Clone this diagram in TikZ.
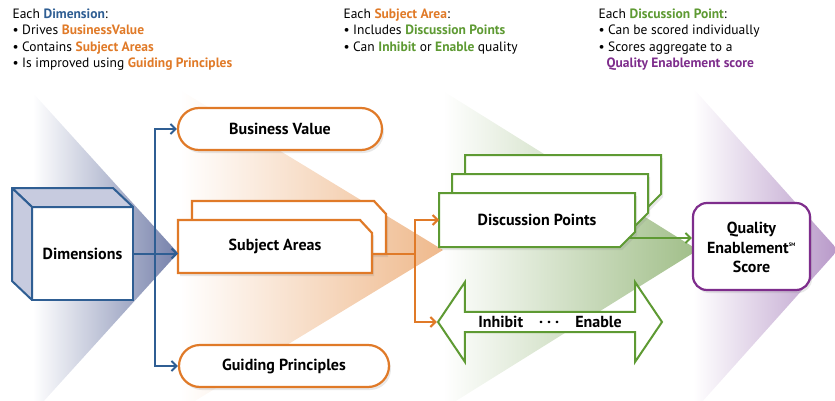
\documentclass[tikz,border=0pt]{standalone}
\usepackage{fontspec}
\setmainfont{PT Sans}
\usetikzlibrary{shapes.arrows,shadows,arrows.meta}
\definecolor{dimblue}{HTML}{2F5E93}
\definecolor{saorange}{HTML}{E07A28}
\definecolor{dpgreen}{HTML}{5E9A33}
\definecolor{qepurple}{HTML}{7E2D8C}
\definecolor{dimshade}{HTML}{7580AA}
\definecolor{sashade}{HTML}{EFB98C}
\definecolor{dpshade}{HTML}{A0BE88}
\definecolor{qeshade}{HTML}{B899C9}
\definecolor{cubeside}{HTML}{C7CBDF}
\pgfdeclarelayer{shades}
\pgfdeclarelayer{cards}
\pgfsetlayers{shades,cards,main}
\tikzset{
  boxshadow/.style={drop shadow={opacity=0.18,shadow xshift=2pt,shadow yshift=-3pt}},
  boxfont/.style={font=\fontsize{16}{19.5}\selectfont\bfseries},
  conn/.style={line width=2pt,-{Straight Barb[length=5pt,width=10pt]}},
  pillbox/.style={draw=saorange,line width=2.2pt,fill=white,rounded corners=21pt,minimum height=42pt,boxfont,boxshadow},
  tabnode/.style={minimum width=194pt,minimum height=53pt,inner sep=0pt,outer sep=0pt,boxfont},
  cardnode/.style={minimum width=196pt,minimum height=54pt,inner sep=0pt,outer sep=0pt,boxfont},
  tabline/.style={draw=saorange,line width=2.2pt,fill=white,boxshadow},
  cardline/.style={draw=dpgreen,line width=2pt,fill=white,boxshadow},
  notetext/.style={anchor=north west,align=left,font=\fontsize{13.5}{16.5}\selectfont}
}
\begin{document}
\begin{tikzpicture}[x=1pt,y=1pt]
\useasboundingbox (0,0) rectangle (835,-401);
\begin{pgfonlayer}{shades}
\shade[left color=white,right color=dimshade] (33,-93) -- (178,-253) -- (33,-413) -- cycle;
\shade[left color=white,right color=sashade] (180,-90) -- (443,-250) -- (180,-410) -- cycle;
\shade[left color=white,right color=dpshade] (443,-91) -- (698,-250) -- (443,-409) -- cycle;
\shade[left color=white,right color=qeshade] (693,-88) -- (838,-250) -- (693,-412) -- cycle;
\end{pgfonlayer}
\node[notetext] (dimnote) at (9,-5) {Each \textcolor{dimblue}{\bfseries Dimension}:\\
  • Drives \textcolor{saorange}{\bfseries BusinessValue}\\
  • Contains \textcolor{saorange}{\bfseries Subject Areas}\\
  • Is improved using \textcolor{saorange}{\bfseries Guiding Principles}};
\node[notetext] (sanote) at (340,-5) {Each \textcolor{saorange}{\bfseries Subject Area}:\\
  • Includes \textcolor{dpgreen}{\bfseries Discussion Points}\\
  • Can \textcolor{dpgreen}{\bfseries Inhibit} or \textcolor{dpgreen}{\bfseries Enable} quality};
\node[notetext] (dpnote) at (595,-5) {Each \textcolor{dpgreen}{\bfseries Discussion Point}:\\
  • Can be scored individually\\
  • Scores aggregate to a\\
  \hspace*{8pt}\textcolor{qepurple}{\bfseries Quality Enablement score}};
\node[draw=dimblue,line width=2pt,fill=white,minimum width=101pt,minimum height=93pt,outer sep=0pt,boxfont] (dim) at (82.5,-253.5) {Dimensions};
\filldraw[fill=cubeside,draw=dimblue,line width=2pt,line join=round] (dim.north west) -- ++(-20,19) -- ++(101,0) -- (dim.north east) -- cycle;
\filldraw[fill=cubeside,draw=dimblue,line width=2pt,line join=round] (dim.north west) -- ++(-20,19) -- ++(0,-93) -- (dim.south west) -- cycle;
\node[pillbox,minimum width=204pt] (bv) at (280,-129) {Business Value};
\node[pillbox,minimum width=210pt] (gp) at (284,-366) {Guiding Principles};
\node[tabnode] (saback) at (289,-227.5) {};
\node[tabnode] (sa) at (275,-246.5) {Subject Areas};
\node[cardnode] (dpback) at (563,-182) {};
\node[cardnode] (dpmid) at (550,-201) {};
\node[cardnode] (dp) at (537,-220) {Discussion Points};
\begin{pgfonlayer}{cards}
\foreach \n in {saback,sa}
  \filldraw[tabline] (\n.north west) -- ([xshift=-12pt]\n.north east) -- ([yshift=-13pt]\n.north east)
    -- (\n.south east) -- (\n.south west) -- cycle;
\foreach \n in {dpback,dpmid,dp}
  \filldraw[cardline] (\n.north west) -- (\n.north east) -- ([yshift=15pt]\n.south east)
    -- ([xshift=-15pt]\n.south east) -- (\n.south west) -- cycle;
\end{pgfonlayer}
\node[double arrow,double arrow head extend=20pt,double arrow tip angle=112,draw=dpgreen,line width=2pt,fill=white,
  minimum height=224pt,minimum width=80pt,inner sep=0pt,boxfont] (ie) at (550,-322) {Inhibit\hspace{16pt}·\hspace{4pt}·\hspace{4pt}·\hspace{16pt}Enable};
\node[draw=qepurple,line width=2.2pt,fill=white,rounded corners=14pt,minimum width=117pt,minimum height=87pt,
  align=center,boxfont,boxshadow] (qe) at (751.5,-246.5) {\\[-6pt]Quality\\Enablement\textsuperscript{\tiny SM}\\Score};
\coordinate (dimsplit) at (155,-253.5);
\coordinate (sasplit) at (415,-253.5);
\draw[conn,dimblue] (dim.east) -- (dim.east -| sa.west);
\draw[conn,dimblue] (dimsplit) |- (bv.west);
\draw[conn,dimblue] (dimsplit) |- (gp.west);
\draw[saorange,line width=2pt] (sa.east |- sasplit) -- (sasplit);
\draw[conn,saorange] (sasplit) |- (dp.west);
\draw[conn,saorange] (sasplit) |- (ie.west);
\draw[conn,dpgreen] ([xshift=-7pt,yshift=-18pt]dp.east) -- ([yshift=-18pt]dp.east -| qe.west);
\end{tikzpicture}
\end{document}
